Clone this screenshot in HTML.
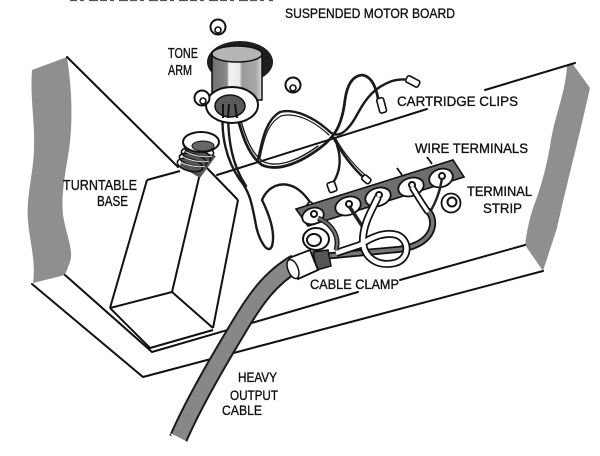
<!DOCTYPE html>
<html><head><meta charset="utf-8"><style>
html,body{margin:0;padding:0;background:#fff;}
svg{display:block;}
text{font-family:"Liberation Sans",Arial,sans-serif;fill:#111;stroke:#111;stroke-width:0.35;}
</style></head><body>
<svg width="600" height="456" viewBox="0 0 600 456" xmlns="http://www.w3.org/2000/svg">
<defs>
<linearGradient id="cyl" x1="0" x2="1" y1="0" y2="0">
<stop offset="0" stop-color="#6f6f6f"/>
<stop offset="0.3" stop-color="#8a8a8a"/>
<stop offset="0.34" stop-color="#f2f2f2"/>
<stop offset="0.55" stop-color="#e8e8e8"/>
<stop offset="0.6" stop-color="#9a9a9a"/>
<stop offset="0.88" stop-color="#a8a8a8"/>
<stop offset="1" stop-color="#d8d8d8"/>
</linearGradient>
</defs>
<rect width="600" height="456" fill="#fff"/>

<!-- cut-off top text -->
<line x1="70" y1="0.5" x2="273" y2="0.5" stroke="#555" stroke-width="1.2" stroke-dasharray="7 3 4 5 9 2"/>

<!-- left grey strip -->
<path d="M32,70 L67,57 C72,90 73,120 69,150 C65,175 61,195 63,215 C66,235 74,250 70,262 L65,275 L33,283 C36,262 30,242 28,222 C26,196 33,176 34,150 C35,120 30,100 32,70 Z" fill="#8f8f8f"/>
<!-- right grey strip -->
<path d="M567,66 L572,63 L590,88 C585,110 580,132 573,160 C567,185 562,205 557,228 L543,271 L525,245 C527,230 530,215 536,200 C543,180 548,160 551,140 C555,115 565,95 567,66 Z" fill="#8f8f8f"/>

<!-- board lines -->
<g stroke="#111" stroke-width="2" fill="none" stroke-linecap="round">
<line x1="67" y1="57" x2="178" y2="167"/>
<line x1="217" y1="175" x2="427" y2="109"/>
<line x1="485" y1="90" x2="575" y2="63"/>
<polyline points="65,275 152,352 358,292"/>
<line x1="400" y1="280" x2="525" y2="245"/>
<polyline points="32,284 143,377 543,271"/>
</g>

<!-- turntable base box -->
<g stroke="#111" stroke-width="2" fill="none" stroke-linejoin="round">
<line x1="147" y1="180" x2="110" y2="308"/>
<line x1="202" y1="165" x2="172" y2="292"/>
<line x1="238" y1="200" x2="213" y2="328"/>
<line x1="147" y1="180" x2="180" y2="171"/>
<line x1="205" y1="166" x2="238" y2="200"/>
<polyline points="110,308 172,292 213,328"/>
<polyline points="110,308 150,348 213,330"/>
</g>

<!-- spring -->
<g>
<path d="M186,146 L180,166 L200,178 L216,156 Z" fill="#555"/>
<g fill="none" stroke="#111" stroke-width="1.6">
<ellipse cx="199" cy="150" rx="15" ry="6" transform="rotate(15 199 150)"/>
<ellipse cx="196" cy="155" rx="15" ry="6" transform="rotate(15 196 155)"/>
<ellipse cx="193" cy="160" rx="14" ry="6" transform="rotate(15 193 160)"/>
<ellipse cx="190" cy="165" rx="13" ry="6" transform="rotate(15 190 165)"/>
</g>
<g fill="none" stroke="#ddd" stroke-width="1">
<path d="M186,152 C195,156 205,158 212,156"/>
<path d="M183,157 C192,161 202,163 209,161"/>
<path d="M180,162 C189,166 199,168 205,166"/>
</g>
<ellipse cx="201" cy="142" rx="18" ry="10" fill="#fff" stroke="#111" stroke-width="2"/>
<ellipse cx="203" cy="146" rx="11" ry="5" fill="#666" stroke="#111" stroke-width="1"/>
</g>

<!-- wires -->
<g fill="none" stroke="#1a1a1a" stroke-width="2.4" stroke-linecap="round">
<path d="M223,112 C221,135 226,160 240,180 C250,192 252,205 255,220 C258,240 268,256 272,246 C276,232 268,212 262,200 C268,186 282,180 296,188 C304,193 309,200 313,207"/>
<path d="M228,112 C228,140 232,165 246,186"/>
<path d="M236,112 C242,135 248,155 262,165 C278,172 300,163 320,148 C335,137 342,125 345,100 C347,85 352,76 362,75 C372,76 376,88 378,98" stroke-width="2.8"/>
<path d="M239,114 C245,136 251,154 264,162 C279,168 299,160 318,146" stroke-width="1.4"/>
<path d="M258,160 C262,140 266,120 280,112 C295,108 315,118 330,132 C340,140 350,128 358,113 C366,98 375,87 392,81 C400,79 404,79 408,80"/>
<path d="M260,158 C264,138 268,123 281,116 C296,112 314,121 329,135" stroke-width="1.2"/>
<path d="M333,137 C340,150 350,165 364,178"/>
<path d="M336,139 C343,152 352,163 366,176" stroke-width="1.2"/>
<path d="M337,145 C342,160 340,172 333,183"/>
</g>
<!-- cartridge clips -->
<g fill="#fff" stroke="#111" stroke-width="1.6">
<rect x="378" y="98" width="7" height="15" rx="2" transform="rotate(-15 381 105)"/>
<rect x="406" y="78" width="14" height="7" rx="2" transform="rotate(28 413 81)"/>
<rect x="362" y="176" width="9" height="6" rx="2" transform="rotate(40 366 179)"/>
<rect x="328" y="182" width="8" height="10" rx="2" transform="rotate(-20 332 187)"/>
<rect x="307" y="203" width="8" height="6" rx="2" transform="rotate(40 311 206)"/>
</g>

<!-- tone arm -->
<ellipse cx="240" cy="62" rx="33" ry="21" fill="#1e1e1e"/>
<path d="M212,55 L212,100 L262,100 L262,55 Z" fill="url(#cyl)" stroke="#111" stroke-width="1.5"/>
<ellipse cx="237" cy="54" rx="25" ry="8" fill="#b5b5b5" stroke="#111" stroke-width="1.5"/>
<ellipse cx="232" cy="105" rx="26" ry="18" fill="#fff" stroke="#111" stroke-width="2"/>
<ellipse cx="230" cy="106" rx="15" ry="11" fill="#5a5a5a" stroke="#111" stroke-width="1.5"/>
<g fill="none" stroke="#111" stroke-width="2">
<path d="M223,104 L223,118"/><path d="M229,104 L228,118"/><path d="M235,104 L237,118"/>
</g>
<!-- nuts -->
<g fill="#fff" stroke="#111" stroke-width="2">
<circle cx="218" cy="27" r="7.5"/><circle cx="293" cy="85" r="7.5"/><circle cx="202" cy="98" r="7.5"/>
</g>
<g fill="none" stroke="#111" stroke-width="1.6">
<circle cx="218" cy="30" r="3"/><circle cx="293" cy="88" r="3"/><circle cx="203" cy="101" r="3"/>
</g>

<!-- terminal strip -->
<polygon points="296,209 453,160 464,177 308,226" fill="#6e6e6e" stroke="#111" stroke-width="1.6"/>
<g stroke="#111" stroke-width="1.8">
<line x1="397" y1="168" x2="402" y2="175"/>
<line x1="427" y1="157" x2="432" y2="164"/>
</g>
<g fill="#fff" stroke="#111" stroke-width="1.8">
<ellipse cx="313" cy="216" rx="11" ry="8" transform="rotate(-18 313 216)"/>
<ellipse cx="348" cy="206" rx="13" ry="9" transform="rotate(-18 348 206)"/>
<ellipse cx="378" cy="197" rx="13" ry="9" transform="rotate(-18 378 197)"/>
<ellipse cx="411" cy="187" rx="13" ry="9" transform="rotate(-18 411 187)"/>
<ellipse cx="441" cy="178" rx="12" ry="9" transform="rotate(-18 441 178)"/>
<circle cx="451" cy="203" r="9.5"/>
</g>
<g fill="#fff" stroke="#111" stroke-width="2">
<circle cx="314" cy="214" r="3"/><circle cx="349" cy="204" r="3"/><circle cx="379" cy="195" r="3"/>
<circle cx="412" cy="185" r="3"/><circle cx="442" cy="176" r="3"/><circle cx="452" cy="202" r="4.5"/>
</g>

<!-- strip wiring -->
<path d="M349,206 L366,232" stroke="#222" stroke-width="3.5" fill="none"/>
<path d="M442,178 C440,192 436,202 430,212" stroke="#222" stroke-width="2.5" fill="none"/>
<path d="M327,256 L392,250 C412,249 428,242 432,228 C434,220 431,214 428,211" stroke="#111" stroke-width="7" fill="none" stroke-linecap="round"/>
<path d="M327,256 L392,250 C412,249 428,242 432,228 C434,220 431,214 428,211" stroke="#777" stroke-width="3.5" fill="none" stroke-linecap="round"/>
<path d="M412,187 C418,197 423,205 428,212" stroke="#111" stroke-width="7" fill="none"/>
<path d="M412,187 C418,197 423,205 428,212" stroke="#fff" stroke-width="3.5" fill="none"/>
<path d="M378,197 C372,210 364,222 363,238 C362,258 378,267 395,263 C410,259 410,240 397,235 C385,231 370,238 360,245 L336,253" stroke="#111" stroke-width="8" fill="none"/>
<path d="M378,197 C372,210 364,222 363,238 C362,258 378,267 395,263 C410,259 410,240 397,235 C385,231 370,238 360,245 L336,253" stroke="#fff" stroke-width="4.5" fill="none"/>
<path d="M318,218 C332,224 340,236 336,250" stroke="#222" stroke-width="5" fill="none"/>
<path d="M318,218 C332,224 340,236 336,250" stroke="#777" stroke-width="2" fill="none"/>

<!-- cable clamp -->
<ellipse cx="316" cy="239" rx="13" ry="11" fill="#fff" stroke="#111" stroke-width="2"/>
<ellipse cx="314" cy="240" rx="7" ry="6" fill="#fff" stroke="#111" stroke-width="2"/>
<path d="M313,252 L328,250 L331,266 L317,270 Z" fill="#555" stroke="#111" stroke-width="1.5"/>

<!-- heavy cable -->
<path d="M178,439 C195,400 222,355 240,325 C255,300 270,278 296,263" stroke="#1a1a1a" stroke-width="19" fill="none"/>
<path d="M178,439 C195,400 222,355 240,325 C255,300 270,278 296,263" stroke="#878787" stroke-width="15" fill="none"/>
<polygon points="170,433 186,441 190,445 174,440" fill="#fff"/>
<!-- sleeve -->
<path d="M289,258 L310,250 L318,270 L298,279 Z" fill="#fff" stroke="#111" stroke-width="1.8"/>
<ellipse cx="293" cy="269" rx="5" ry="10" transform="rotate(-22 293 269)" fill="#fff" stroke="#111" stroke-width="1.5"/>

<!-- labels -->
<text x="285" y="18" font-size="14" textLength="170" lengthAdjust="spacingAndGlyphs">SUSPENDED MOTOR BOARD</text>
<text x="168" y="58" font-size="15" textLength="30" lengthAdjust="spacingAndGlyphs">TONE</text>
<text x="168" y="75" font-size="15" textLength="24" lengthAdjust="spacingAndGlyphs">ARM</text>
<text x="63" y="190" font-size="15" textLength="74" lengthAdjust="spacingAndGlyphs">TURNTABLE</text>
<text x="97" y="206" font-size="15" textLength="31" lengthAdjust="spacingAndGlyphs">BASE</text>
<text x="397" y="106" font-size="14" textLength="121" lengthAdjust="spacingAndGlyphs">CARTRIDGE CLIPS</text>
<text x="415" y="153" font-size="14" textLength="113" lengthAdjust="spacingAndGlyphs">WIRE TERMINALS</text>
<text x="467" y="196" font-size="14" textLength="65" lengthAdjust="spacingAndGlyphs">TERMINAL</text>
<text x="483" y="213" font-size="14" textLength="39" lengthAdjust="spacingAndGlyphs">STRIP</text>
<text x="310" y="289" font-size="14" textLength="89" lengthAdjust="spacingAndGlyphs">CABLE CLAMP</text>
<text x="238" y="382" font-size="14" textLength="39" lengthAdjust="spacingAndGlyphs">HEAVY</text>
<text x="230" y="400" font-size="14" textLength="48" lengthAdjust="spacingAndGlyphs">OUTPUT</text>
<text x="222" y="415" font-size="14" textLength="40" lengthAdjust="spacingAndGlyphs">CABLE</text>
</svg>
</body></html>
